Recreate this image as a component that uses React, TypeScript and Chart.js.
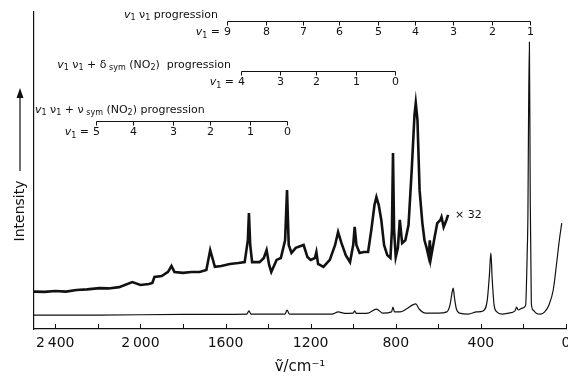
import React, { useEffect, useRef } from "react";
import { Chart, registerables } from "chart.js";

Chart.register(...registerables);

// ---- data (wavenumber in cm^-1, intensity in arbitrary units 0..100) ----
const lowerWavenumbers = [2500, 2200, 1800, 1500, 1490, 1480, 1320, 1311, 1300, 1100, 1070, 1040, 1000, 993, 985, 930, 891, 860, 820, 813, 806, 780, 750, 720, 706, 690, 660, 600, 560, 545, 535, 530, 524, 515, 500, 460, 420, 390, 370, 360, 353, 347, 338, 325, 300, 270, 240, 232, 225, 205, 190, 182, 179, 176, 172, 168, 163, 155, 140, 120, 100, 80, 60, 45, 30, 20];
const lowerIntensity = [4.4, 4.4, 4.6, 4.7, 5.7, 4.7, 4.7, 6.0, 4.7, 4.7, 5.4, 4.9, 5.0, 5.7, 4.9, 5.0, 6.3, 5.0, 5.4, 6.9, 5.4, 5.4, 6.3, 7.6, 7.9, 6.3, 5.0, 5.0, 5.4, 7.6, 11.7, 12.9, 9.8, 6.3, 5.0, 4.7, 5.4, 5.7, 9.1, 17.0, 24.0, 16.0, 7.6, 5.4, 4.7, 5.0, 5.7, 6.9, 6.0, 6.6, 7.3, 24.9, 36.0, 66.0, 90.5, 40.7, 8.2, 6.0, 5.0, 4.7, 5.4, 7.6, 12.3, 20.2, 28.7, 33.4];

const upperWavenumbers = [2500, 2450, 2400, 2350, 2300, 2250, 2193, 2150, 2100, 2038, 2000, 1960, 1944, 1934, 1900, 1870, 1854, 1840, 1800, 1760, 1722, 1690, 1672, 1650, 1620, 1580, 1540, 1510, 1495, 1490, 1484, 1475, 1440, 1420, 1407, 1395, 1385, 1360, 1340, 1320, 1311, 1303, 1290, 1270, 1233, 1215, 1200, 1180, 1173, 1165, 1140, 1110, 1085, 1071, 1055, 1035, 1015, 1000, 993, 985, 970, 950, 930, 915, 900, 891, 880, 868, 855, 840, 825, 818, 813, 808, 800, 790, 781, 770, 755, 740, 725, 712, 706, 698, 688, 675, 665, 655, 645, 640, 635, 620, 605, 590, 585, 575, 562, 554];
const upperIntensity = [11.8, 11.7, 12.0, 11.8, 12.3, 12.5, 12.9, 12.8, 13.2, 14.8, 13.9, 14.2, 14.5, 16.4, 16.7, 18.0, 19.9, 18.0, 17.7, 18.0, 18.0, 18.6, 24.9, 19.6, 19.9, 20.5, 20.8, 21.1, 28.0, 36.6, 26.5, 21.1, 21.1, 22.4, 24.9, 20.2, 18.0, 21.8, 22.4, 28.0, 43.8, 26.5, 24.0, 25.6, 26.5, 22.7, 21.8, 22.4, 24.3, 20.5, 19.6, 21.8, 26.5, 30.6, 27.1, 23.3, 21.1, 26.5, 32.2, 26.5, 24.0, 24.3, 24.3, 31.2, 39.1, 41.6, 39.1, 34.4, 26.5, 23.3, 22.4, 31.2, 55.5, 31.2, 22.7, 25.6, 34.4, 27.1, 28.0, 32.8, 50.2, 67.5, 71.3, 65.9, 43.8, 33.4, 28.0, 25.6, 22.7, 28.0, 22.4, 28.0, 33.4, 34.4, 35.3, 32.2, 34.4, 36.0];

const xTickValues = [2400, 2200, 2000, 1800, 1600, 1400, 1200, 1000, 800, 600, 400, 200, 0];
const majorTickValues = [2400, 2000, 1600, 1200, 800, 400, 0];
const majorTickLabels = ["2\u2009400", "2\u2009000", "1600", "1200", "800", "400", "0"];

// progressions
const nu1Levels = [9, 8, 7, 6, 5, 4, 3, 2, 1];
const nu1Positions = [1591, 1412, 1238, 1068, 885, 711, 532, 348, 169];
const deltaLevels = [4, 3, 2, 1, 0];
const deltaPositions = [1525, 1346, 1177, 988, 805];
const nuSymLevels = [5, 4, 3, 2, 1, 0];
const nuSymPositions = [2207, 2033, 1849, 1671, 1487, 1311];

const scaleFactorLabel = "\u00d7 32";
const xTitle = "\u1e7d/cm\u207b\u00b9";
const yTitle = "Intensity";

type Part = { t: string; sub?: boolean; it?: boolean };
const title1: Part[] = [{ t: "v", it: true }, { t: "1", sub: true }, { t: " \u03bd" }, { t: "1", sub: true }, { t: " progression" }];
const title2: Part[] = [{ t: "v", it: true }, { t: "1", sub: true }, { t: " \u03bd" }, { t: "1", sub: true }, { t: " + \u03b4" }, { t: " sym", sub: true }, { t: " (NO" }, { t: "2", sub: true }, { t: ")  progression" }];
const title3: Part[] = [{ t: "v", it: true }, { t: "1", sub: true }, { t: " \u03bd" }, { t: "1", sub: true }, { t: " + \u03bd" }, { t: " sym", sub: true }, { t: " (NO" }, { t: "2", sub: true }, { t: ") progression" }];
const levelPrefix: Part[] = [{ t: "v", it: true }, { t: "1", sub: true }, { t: " = " }];

const FONT = "'DejaVu Sans', sans-serif";

function partFont(p: Part, size: number) {
  const s = p.sub ? Math.round(size * 0.72) : size;
  return `${p.it ? "italic " : ""}${s}px ${FONT}`;
}

function drawRich(ctx: CanvasRenderingContext2D, parts: Part[], x: number, y: number, align: "left" | "right", size: number) {
  let total = 0;
  for (const p of parts) {
    ctx.font = partFont(p, size);
    total += ctx.measureText(p.t).width;
  }
  let cx = align === "left" ? x : x - total;
  ctx.textAlign = "left";
  ctx.textBaseline = "middle";
  for (const p of parts) {
    ctx.font = partFont(p, size);
    ctx.fillText(p.t, cx, p.sub ? y + 3 : y);
    cx += ctx.measureText(p.t).width;
  }
}

const annotationPlugin = {
  id: "annotations",
  afterDraw(chart: any) {
    const ctx: CanvasRenderingContext2D = chart.ctx;
    const xs = chart.scales.x;
    const ys = chart.scales.y;
    const area = chart.chartArea;
    ctx.save();
    ctx.strokeStyle = "#111";
    ctx.fillStyle = "#111";
    ctx.lineWidth = 1;

    // inward tick marks on x axis
    for (const v of xTickValues) {
      const px = Math.round(xs.getPixelForValue(v)) + 0.5;
      ctx.beginPath();
      ctx.moveTo(px, area.bottom);
      ctx.lineTo(px, area.bottom - 5);
      ctx.stroke();
    }

    // progression combs
    const comb = (levels: number[], positions: number[], lineY: number) => {
      const pxs = positions.map((p) => Math.round(xs.getPixelForValue(p)) + 0.5);
      ctx.beginPath();
      ctx.moveTo(pxs[0], lineY + 4);
      ctx.lineTo(pxs[0], lineY);
      ctx.lineTo(pxs[pxs.length - 1], lineY);
      ctx.lineTo(pxs[pxs.length - 1], lineY + 4);
      for (let i = 1; i < pxs.length - 1; i++) {
        ctx.moveTo(pxs[i], lineY);
        ctx.lineTo(pxs[i], lineY + 4);
      }
      ctx.stroke();
      ctx.font = `11px ${FONT}`;
      ctx.textAlign = "center";
      ctx.textBaseline = "middle";
      levels.forEach((lv, i) => ctx.fillText(String(lv), pxs[i], lineY + 11));
      drawRich(ctx, levelPrefix, pxs[0] - 4, lineY + 11, "right", 11);
    };
    comb(nu1Levels, nu1Positions, 21.5);
    comb(deltaLevels, deltaPositions, 71.5);
    comb(nuSymLevels, nuSymPositions, 121.5);

    drawRich(ctx, title1, 218, 15, "right", 11);
    drawRich(ctx, title2, 231, 65, "right", 11);
    drawRich(ctx, title3, 35, 110, "left", 11);

    // x32 label next to end of magnified trace
    ctx.font = `11px ${FONT}`;
    ctx.textAlign = "left";
    ctx.textBaseline = "middle";
    const lastX = upperWavenumbers[upperWavenumbers.length - 1];
    const lastY = upperIntensity[upperIntensity.length - 1];
    ctx.fillText(scaleFactorLabel, xs.getPixelForValue(lastX) + 7, ys.getPixelForValue(lastY));

    // y title with arrow
    ctx.save();
    ctx.translate(20, 211);
    ctx.rotate(-Math.PI / 2);
    ctx.font = `14px ${FONT}`;
    ctx.textAlign = "center";
    ctx.textBaseline = "middle";
    ctx.fillText(yTitle, 0, 0);
    ctx.restore();
    ctx.lineWidth = 1.2;
    ctx.beginPath();
    ctx.moveTo(20, 171);
    ctx.lineTo(20, 96);
    ctx.stroke();
    ctx.beginPath();
    ctx.moveTo(20, 88);
    ctx.lineTo(16.5, 98);
    ctx.lineTo(23.5, 98);
    ctx.closePath();
    ctx.fill();
    ctx.restore();
  },
};

export default function App() {
  const ref = useRef<HTMLCanvasElement | null>(null);
  useEffect(() => {
    if (!ref.current) return;
    const chart = new Chart(ref.current, {
      type: "line",
      data: {
        datasets: [
          {
            label: "spectrum",
            data: lowerWavenumbers.map((x, i) => ({ x, y: lowerIntensity[i] })),
            borderColor: "#111",
            borderWidth: 1.2,
            pointRadius: 0,
            cubicInterpolationMode: "monotone",
          },
          {
            label: "x32",
            data: upperWavenumbers.map((x, i) => ({ x, y: upperIntensity[i] })),
            borderColor: "#111",
            borderWidth: 2.6,
            pointRadius: 0,
            tension: 0,
          },
        ],
      },
      options: {
        responsive: false,
        animation: false,
        layout: { padding: { top: 12, right: 2, left: 0, bottom: 0 } },
        plugins: { legend: { display: false }, tooltip: { enabled: false } },
        scales: {
          x: {
            type: "linear",
            reverse: true,
            min: 0,
            max: 2500,
            afterBuildTicks: (scale: any) => {
              scale.ticks = xTickValues.map((v) => ({ value: v }));
            },
            afterFit: (scale: any) => {
              scale.height = 47;
              scale.paddingLeft = 0;
              scale.paddingRight = 0;
            },
            grid: { display: false, drawTicks: false },
            border: { display: true, color: "#111", width: 1.2 },
            ticks: {
              autoSkip: false,
              maxRotation: 0,
              padding: 6,
              color: "#111",
              font: { family: FONT, size: 14 },
              callback: (v: any) => {
                const i = majorTickValues.indexOf(Number(v));
                return i >= 0 ? majorTickLabels[i] : "";
              },
            },
            title: {
              display: true,
              text: xTitle,
              color: "#111",
              font: { family: FONT, size: 15 },
              padding: { top: 0, bottom: 0 },
            },
          },
          y: {
            type: "linear",
            min: 0,
            max: 100,
            afterFit: (scale: any) => {
              scale.width = 34;
            },
            grid: { display: false, drawTicks: false },
            border: { display: true, color: "#111", width: 1.2 },
            ticks: { display: false },
          },
        },
      },
      plugins: [annotationPlugin],
    } as any);
    return () => chart.destroy();
  }, []);
  return (
    <div style={{ position: "absolute", left: 0, top: 0, width: 568, height: 376, background: "#fff" }}>
      <canvas ref={ref} width={568} height={376} style={{ display: "block" }} />
    </div>
  );
}
